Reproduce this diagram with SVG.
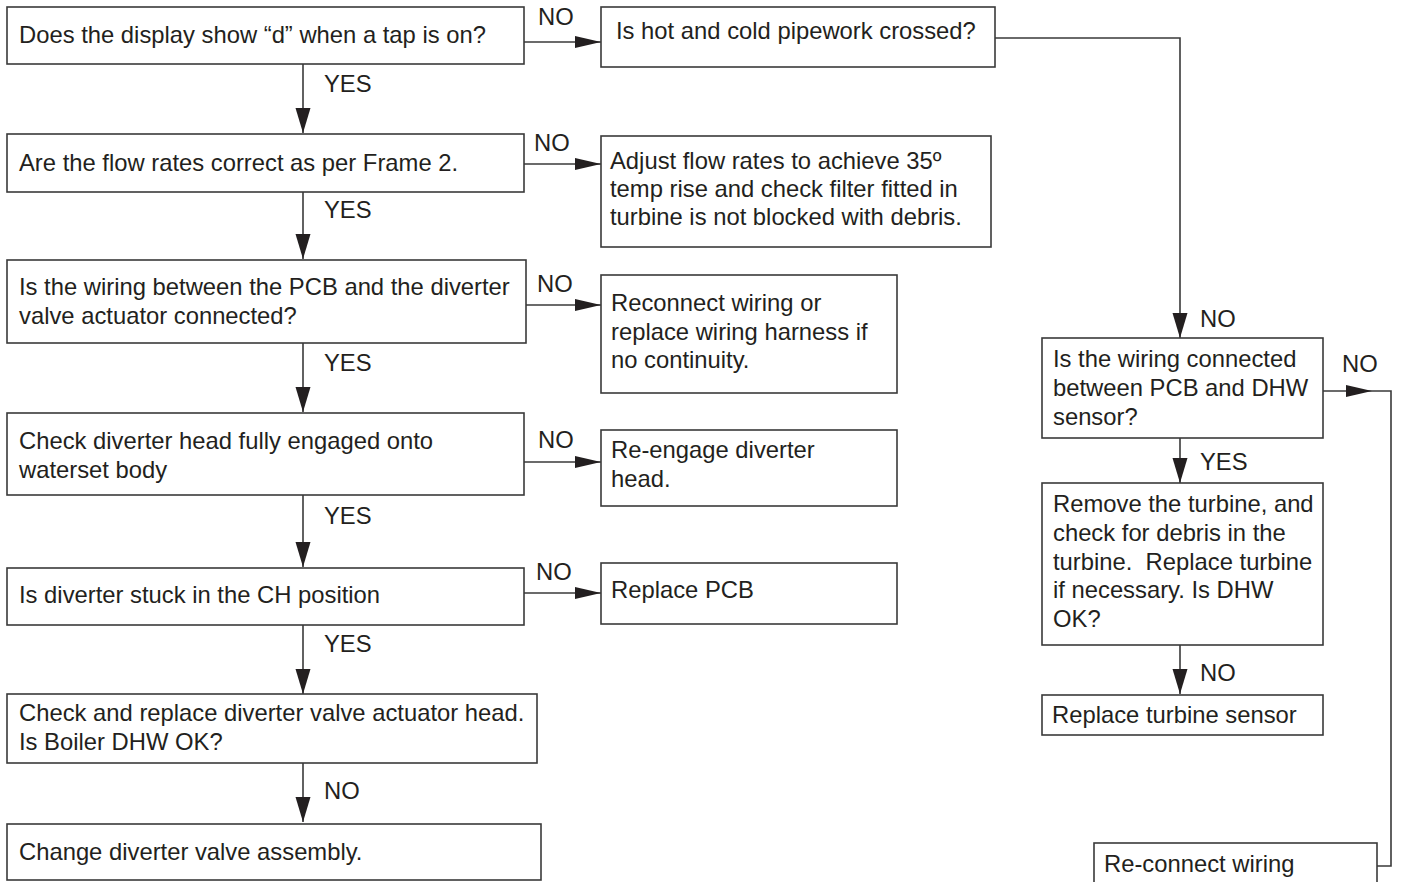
<svg xmlns="http://www.w3.org/2000/svg" width="1403" height="882" viewBox="0 0 1403 882">
<defs>
<style>
.box{fill:#fff;stroke:#3a3a3a;stroke-width:1.6}
.t{font-family:"Liberation Sans",Arial,sans-serif;font-size:23.8px;fill:#231f20}
.ln{fill:none;stroke:#3a3a3a;stroke-width:1.6}
.ah{fill:#231f20}
</style>
<marker id="av" markerUnits="userSpaceOnUse" markerWidth="26" markerHeight="16" refX="25" refY="7.5" orient="auto" viewBox="0 0 26 16">
<path d="M0,0 L25,7.5 L0,15 z" class="ah"/>
</marker>
<marker id="ahz" markerUnits="userSpaceOnUse" markerWidth="27" markerHeight="13" refX="26" refY="6" orient="auto" viewBox="0 0 27 13">
<path d="M0,0 L26,6 L0,12 z" class="ah"/>
</marker>
</defs>
<rect width="1403" height="882" fill="#fff"/>
<g id="connectors">
<path class="ln" d="M524,42 H601" marker-end="url(#ahz)"/>
<path class="ln" d="M303,64 V133" marker-end="url(#av)"/>
<path class="ln" d="M524,164 H601" marker-end="url(#ahz)"/>
<path class="ln" d="M303,192 V259" marker-end="url(#av)"/>
<path class="ln" d="M526,305 H601" marker-end="url(#ahz)"/>
<path class="ln" d="M303,343 V412" marker-end="url(#av)"/>
<path class="ln" d="M524,462 H601" marker-end="url(#ahz)"/>
<path class="ln" d="M303,495 V567" marker-end="url(#av)"/>
<path class="ln" d="M524,593 H601" marker-end="url(#ahz)"/>
<path class="ln" d="M303,625 V694" marker-end="url(#av)"/>
<path class="ln" d="M303,763 V822" marker-end="url(#av)"/>
<path class="ln" d="M995,38 H1180 V338" marker-end="url(#av)"/>
<path class="ln" d="M1180,438 V483" marker-end="url(#av)"/>
<path class="ln" d="M1180,645 V694" marker-end="url(#av)"/>
<path class="ln" d="M1323,391 H1372" marker-end="url(#ahz)"/>
<path class="ln" d="M1372,391 H1391 V866 H1377"/>
<text class="t" x="538" y="25">NO</text>
<text class="t" x="324" y="92">YES</text>
<text class="t" x="534" y="151">NO</text>
<text class="t" x="324" y="218">YES</text>
<text class="t" x="537" y="292">NO</text>
<text class="t" x="324" y="371">YES</text>
<text class="t" x="538" y="448">NO</text>
<text class="t" x="324" y="524">YES</text>
<text class="t" x="536" y="580">NO</text>
<text class="t" x="324" y="652">YES</text>
<text class="t" x="324" y="799">NO</text>
<text class="t" x="1200" y="327">NO</text>
<text class="t" x="1342" y="372">NO</text>
<text class="t" x="1200" y="470">YES</text>
<text class="t" x="1200" y="681">NO</text>
</g>
<g id="n1"><rect class="box" x="7" y="7" width="517" height="57"/><text class="t" x="19" y="43">Does the display show “d” when a tap is on?</text></g>
<g id="n2"><rect class="box" x="601" y="7" width="394" height="60"/><text class="t" x="616" y="39">Is hot and cold pipework crossed?</text></g>
<g id="n3"><rect class="box" x="7" y="134" width="517" height="58"/><text class="t" x="19" y="171">Are the flow rates correct as per Frame 2.</text></g>
<g id="n4"><rect class="box" x="601" y="136" width="390" height="111"/><text class="t" x="610" y="169">Adjust flow rates to achieve 35º</text><text class="t" x="610" y="197">temp rise and check filter fitted in</text><text class="t" x="610" y="225">turbine is not blocked with debris.</text></g>
<g id="n5"><rect class="box" x="7" y="260" width="519" height="83"/><text class="t" x="19" y="295">Is the wiring between the PCB and the diverter</text><text class="t" x="19" y="324">valve actuator connected?</text></g>
<g id="n6"><rect class="box" x="601" y="275" width="296" height="118"/><text class="t" x="611" y="311">Reconnect wiring or</text><text class="t" x="611" y="340">replace wiring harness if</text><text class="t" x="611" y="368">no continuity.</text></g>
<g id="n7"><rect class="box" x="7" y="413" width="517" height="82"/><text class="t" x="19" y="449">Check diverter head fully engaged onto</text><text class="t" x="19" y="478">waterset body</text></g>
<g id="n8"><rect class="box" x="601" y="430" width="296" height="76"/><text class="t" x="611" y="458">Re-engage diverter</text><text class="t" x="611" y="487">head.</text></g>
<g id="n9"><rect class="box" x="7" y="568" width="517" height="57"/><text class="t" x="19" y="603">Is diverter stuck in the CH position</text></g>
<g id="n10"><rect class="box" x="601" y="563" width="296" height="61"/><text class="t" x="611" y="598">Replace PCB</text></g>
<g id="n11"><rect class="box" x="7" y="694" width="530" height="69"/><text class="t" x="19" y="721">Check and replace diverter valve actuator head.</text><text class="t" x="19" y="750">Is Boiler DHW OK?</text></g>
<g id="n12"><rect class="box" x="7" y="824" width="534" height="56"/><text class="t" x="19" y="860">Change diverter valve assembly.</text></g>
<g id="n13"><rect class="box" x="1042" y="338" width="281" height="100"/><text class="t" x="1053" y="367">Is the wiring connected</text><text class="t" x="1053" y="396">between PCB and DHW</text><text class="t" x="1053" y="425">sensor?</text></g>
<g id="n14"><rect class="box" x="1042" y="483" width="281" height="162"/><text class="t" x="1053" y="512">Remove the turbine, and</text><text class="t" x="1053" y="541">check for debris in the</text><text class="t" x="1053" y="570" xml:space="preserve">turbine.  Replace turbine</text><text class="t" x="1053" y="598">if necessary. Is DHW</text><text class="t" x="1053" y="627">OK?</text></g>
<g id="n15"><rect class="box" x="1042" y="695" width="281" height="40"/><text class="t" x="1052" y="723">Replace turbine sensor</text></g>
<g id="n16"><rect class="box" x="1094" y="843" width="283" height="50"/><text class="t" x="1104" y="872">Re-connect wiring</text></g>
</svg>
